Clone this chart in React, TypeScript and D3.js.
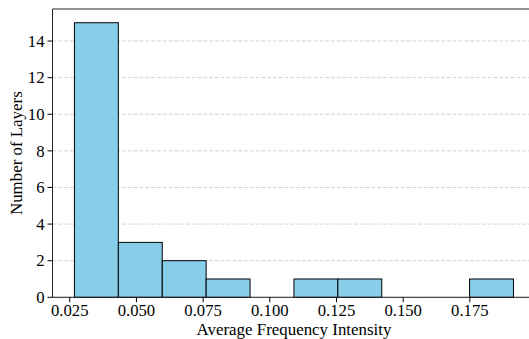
import React from "react";
import * as d3 from "d3";

const binStart = 0.02676;
const binEnd = 0.19135;
const counts = [15, 3, 2, 1, 0, 1, 1, 0, 0, 1];
const xTicks = [0.025, 0.05, 0.075, 0.1, 0.125, 0.15, 0.175];
const yTicks = [0, 2, 4, 6, 8, 10, 12, 14];

export default function App() {
  const W = 529, H = 339;
  const left = 52.5, right = 535.4, top = 9, bottom = 297.3;
  const n = counts.length;
  const bw = (binEnd - binStart) / n;
  const margin = (binEnd - binStart) * 0.05;
  const x = d3.scaleLinear().domain([binStart - margin, binEnd + margin]).range([left, right]);
  const yMax = d3.max(counts)! * 1.05;
  const y = d3.scaleLinear().domain([0, yMax]).range([bottom, top]);
  const font = "'Liberation Serif', 'Times New Roman', serif";
  const fmt = d3.format(".3f");

  return (
    <svg width={W} height={H} style={{ position: "absolute", left: 0, top: 0, overflow: "hidden" }}>
      <rect width={W} height={H} fill="#fff" />
      {yTicks.map((t) => (
        <line key={"g" + t} x1={left} x2={right} y1={y(t)} y2={y(t)} stroke="#b0b0b0" strokeOpacity={0.7} strokeWidth={0.8} strokeDasharray="4,1.8" />
      ))}
      {counts.map((c, i) => {
        if (c === 0) return null;
        const x0 = x(binStart + i * bw), x1 = x(binStart + (i + 1) * bw);
        return (
          <rect key={"b" + i} x={x0} y={y(c)} width={x1 - x0} height={y(0) - y(c)} fill="#87CEEB" stroke="#000" strokeWidth={1} />
        );
      })}
      <line x1={left} x2={left} y1={top} y2={bottom} stroke="#222" strokeWidth={1} />
      <line x1={left} x2={right} y1={bottom} y2={bottom} stroke="#222" strokeWidth={1} />
      <line x1={left} x2={right} y1={top} y2={top} stroke="#222" strokeWidth={1} />
      {xTicks.map((t) => (
        <g key={"x" + t}>
          <line x1={x(t)} x2={x(t)} y1={bottom} y2={bottom + 5} stroke="#000" strokeWidth={1} />
          <text x={x(t)} y={bottom + 19} textAnchor="middle" fontFamily={font} fontSize={16.7} fill="#000">{fmt(t)}</text>
        </g>
      ))}
      {yTicks.map((t) => (
        <g key={"y" + t}>
          <line x1={left - 5} x2={left} y1={y(t)} y2={y(t)} stroke="#000" strokeWidth={1} />
          <text x={left - 8} y={y(t) + 5.8} textAnchor="end" fontFamily={font} fontSize={16.7} fill="#000">{t}</text>
        </g>
      ))}
      <text x={294} y={335} textAnchor="middle" fontFamily={font} fontSize={16.9} fill="#000">Average Frequency Intensity</text>
      <text transform={`translate(22,${(top + bottom) / 2}) rotate(-90)`} textAnchor="middle" fontFamily={font} fontSize={16.9} fill="#000">Number of Layers</text>
    </svg>
  );
}
